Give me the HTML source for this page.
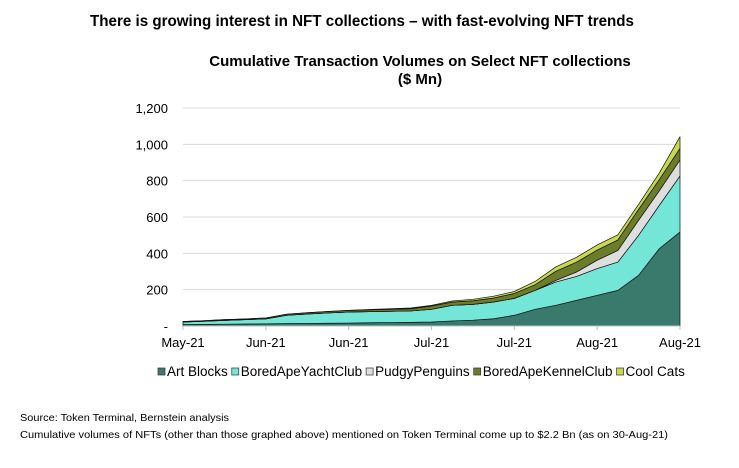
<!DOCTYPE html>
<html><head><meta charset="utf-8"><style>
body{margin:0;background:#fff;width:739px;height:463px;overflow:hidden;font-family:"Liberation Sans",sans-serif;}
</style></head><body>
<svg width="739" height="463" xmlns="http://www.w3.org/2000/svg">
<text x="90" y="26" font-size="15.5" font-weight="bold" textLength="544" lengthAdjust="spacingAndGlyphs">There is growing interest in NFT collections – with fast-evolving NFT trends</text>
<text x="420" y="66" font-size="15" font-weight="bold" text-anchor="middle">Cumulative Transaction Volumes on Select NFT collections</text>
<text x="420" y="84" font-size="15" font-weight="bold" text-anchor="middle">($ Mn)</text>
<g id="grid"></g><g id="areas"></g><g id="axes"></g><g id="legend"></g>
<text x="20" y="421" font-size="10.5" textLength="209" lengthAdjust="spacingAndGlyphs">Source: Token Terminal, Bernstein analysis</text>
<text x="20" y="438" font-size="10.5" textLength="648" lengthAdjust="spacingAndGlyphs">Cumulative volumes of NFTs (other than those graphed above) mentioned on Token Terminal come up to $2.2 Bn (as on 30-Aug-21)</text>
</svg>
<script>
const xLabels=["May-21","Jun-21","Jun-21","Jul-21","Jul-21","Aug-21","Aug-21"];
const yTicks=[0,200,400,600,800,1000,1200];
const seriesNames=["Art Blocks","BoredApeYachtClub","PudgyPenguins","BoredApeKennelClub","Cool Cats"];
const artBlocks=[8,9,10,11,12,13,14,15,16,18,19,20,22,28,32,40,59,92,114,141,169,196,279,426,517];
const bayc=[14,17,21,24,27,46,52,57,61,61,62,63,70,86,87,92,93,104,128,132,147,156,220,238,309];
const pudgy=[0,0,0,0,0,0,0,0,0,0,0,0,0,0,0,0,0,0,9,24,46,64,83,80,88];
const kennel=[3,3,4,4,5,6,7,8,9,10,11,12,18,18,20,22,27,31,50,54,56,58,60,62,64];
const coolCats=[0,0,0,0,0,0,0,0,0,2,3,4,4,6,8,10,11,18,24,27,28,28,28,36,64];
const colors=["#3a7a6d","#74e6d8","#dedede","#6b7d2a","#c9d94c"];
const NS="http://www.w3.org/2000/svg";
const X0=183,X1=680,Y0=326,Y1=108;
const n=artBlocks.length;
const xs=i=>X0+(X1-X0)*i/(n-1);
const ys=v=>Y0-(Y0-Y1)*v/1200;
function mk(t,a,p){const e=document.createElementNS(NS,t);for(const k in a)e.setAttribute(k,a[k]);p.appendChild(e);return e;}
const grid=document.getElementById('grid'),areas=document.getElementById('areas'),axes=document.getElementById('axes'),leg=document.getElementById('legend');
yTicks.forEach(v=>{
  if(v>0){const l=mk('line',{x1:X0,x2:X1,y1:ys(v),y2:ys(v),stroke:'#d9d9d9','stroke-width':1},grid);
  
  }
  const t=mk('text',{x:168,y:ys(v)+5,'font-size':13,'text-anchor':'end'},axes);
  t.textContent=v===0?'-':v.toLocaleString('en-US');
  
  
});
const data=[artBlocks,bayc,pudgy,kennel,coolCats];
let base=new Array(n).fill(0);
data.forEach((s,k)=>{
  const top=base.map((b,i)=>b+s[i]);
  let d='M'+top.map((v,i)=>xs(i)+','+ys(v)).join(' L');
  for(let i=n-1;i>=0;i--)d+=' L'+xs(i)+','+ys(base[i]);
  d+='Z';
  const p=mk('path',{d:d,fill:colors[k],stroke:'#111','stroke-width':0.7,'stroke-linejoin':'round'},areas);
  
  
  base=top;
});
const ax=mk('line',{x1:X0,x2:X1,y1:Y0,y2:Y0,stroke:'#bfbfbf','stroke-width':1},axes);


xLabels.forEach((lab,i)=>{
  const x=X0+(X1-X0)*i/(xLabels.length-1);
  const tk=mk('line',{x1:x,x2:x,y1:Y0,y2:Y0+4,stroke:'#bfbfbf'},axes);
  
  
  const t=mk('text',{x:x,y:347,'font-size':13,'text-anchor':'middle'},axes);
  t.textContent=lab;
  
  
});
let cx=158;
seriesNames.forEach((nm,k)=>{
  const g=mk('g',{},leg);
  
  
  mk('rect',{x:cx,y:368,width:7,height:7,fill:colors[k],stroke:'#333','stroke-width':0.7},g);
  const t=mk('text',{x:cx+9,y:376,'font-size':13.5},g);
  t.textContent=nm;
  cx+=9+t.getComputedTextLength()+4;
});
</script>
</body></html>
